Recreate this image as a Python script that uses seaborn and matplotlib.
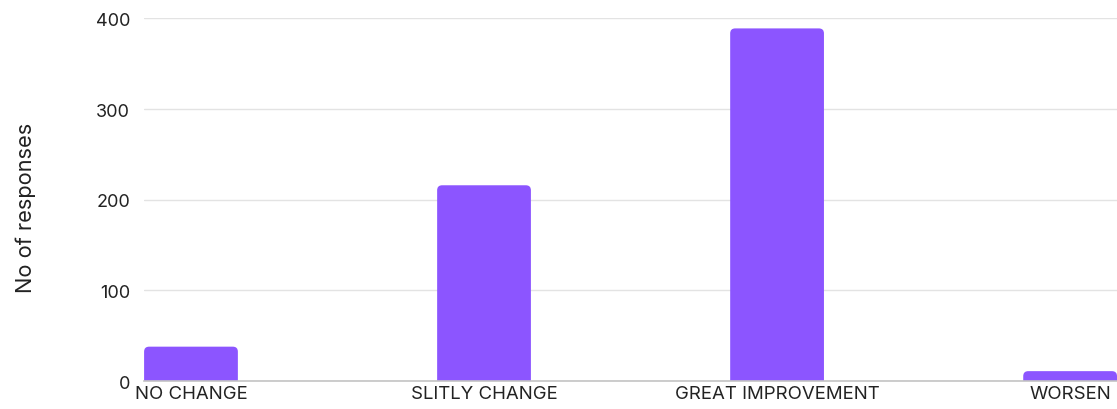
import matplotlib
matplotlib.use("Agg")
import matplotlib.pyplot as plt
import seaborn as sns
import pandas as pd
from matplotlib.patches import FancyBboxPatch

categories = ["NO CHANGE", "SLITLY CHANGE", "GREAT IMPROVEMENT", "WORSEN"]
responses = [38, 216, 389, 11]
y_ticks = [0, 100, 200, 300, 400]
y_label = "No of responses"

sns.set_theme(style="white")
plt.rcParams['font.family'] = ['Inter', 'DejaVu Sans']

bar_color = "#8C55FF"
df = pd.DataFrame({"cat": categories, "val": responses})

fig = plt.figure(figsize=(11.17, 4.10), dpi=100)
ax = fig.add_axes([0.129, 0.068, 0.871, 0.8846])
sns.barplot(data=df, x="cat", y="val", color=bar_color, width=0.32, ax=ax,
            saturation=1)
ax.set_xlim(-0.16, 3.16)
ax.set_ylim(0, 400)
ax.set_yticks(y_ticks)
ax.grid(axis="y", color="#e3e3e3", linewidth=1)
ax.set_axisbelow(True)
for s in ["top", "right", "left"]:
    ax.spines[s].set_visible(False)
ax.spines["bottom"].set_color("#c4c4c4")
ax.spines["bottom"].set_linewidth(1.2)
ax.spines["bottom"].set_zorder(5)
ax.tick_params(axis="x", length=0, pad=3, labelsize=13.4, colors="#222222")
ax.tick_params(axis="y", length=0, pad=10, labelsize=13, colors="#222222")
ax.set_xlabel("")
ax.set_ylabel(y_label, fontsize=15.7, color="#222222")
ax.yaxis.set_label_coords(-0.111, 0.48)

# round the bar tops
fig.canvas.draw()
inv = ax.transData.inverted()
p0 = inv.transform((0, 0)); p1 = inv.transform((1, 1))
ux = p1[0] - p0[0]  # data x per px
uy = p1[1] - p0[1]  # data y per px
aspect = uy / ux
r = 5 * ux
for p in list(ax.patches):
    x, y = p.get_x(), p.get_y()
    w, h = p.get_width(), p.get_height()
    p.remove()
    fb = FancyBboxPatch((x, y - 10 * uy), w, h + 10 * uy,
                        boxstyle=f"round,pad=0,rounding_size={r}",
                        mutation_aspect=aspect, facecolor=bar_color,
                        edgecolor="none", zorder=3)
    ax.add_patch(fb)

fig.savefig("out.png", dpi=100)
